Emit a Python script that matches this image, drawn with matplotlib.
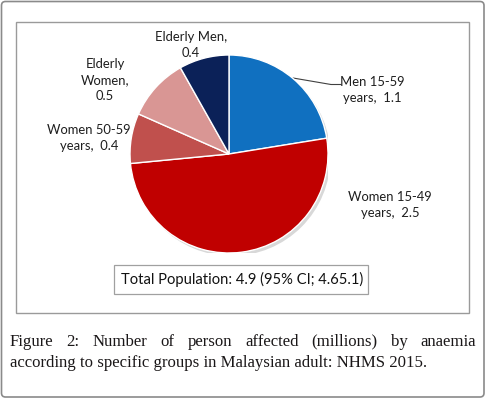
import matplotlib.pyplot as plt
from matplotlib.patches import FancyBboxPatch, Rectangle, Circle

# anaemia cases (millions) by group, NHMS 2015
groups = ["Men 15-59\nyears,", "Women 15-49\nyears,", "Women 50-59\nyears,",
          "Elderly\nWomen,\n", "Elderly Men,\n"]
cases = [1.1, 2.5, 0.4, 0.5, 0.4]
colors = ["#1070C0", "#C00000", "#C0504D", "#D99694", "#0B2158"]
total_text = "Total Population: 4.9 (95% CI; 4.65.1)"
caption_1 = "Figure 2: Number of person affected (millions) by anaemia"
caption_2 = "according to specific groups in Malaysian adult: NHMS 2015."

W, H = 486, 398
fig = plt.figure(figsize=(W / 100, H / 100), dpi=100)

# overlay axes in pixel coords (y down)
bg = fig.add_axes([0, 0, 1, 1])
bg.set_xlim(0, W)
bg.set_ylim(H, 0)
bg.axis("off")

bg.add_patch(FancyBboxPatch((1.5, 1.5), W - 3.5, H - 2.5,
                            boxstyle="round,pad=0,rounding_size=4",
                            fc="none", ec="#8a8a8a", lw=1.2))
bg.add_patch(Rectangle((16, 22), 453, 291, fc="none", ec="#9a9a9a", lw=1.0))

# pie
cx, cy, r = 229, 154, 99
pax = fig.add_axes([(cx - r) / W, (H - cy - r) / H, 2 * r / W, 2 * r / H])
pax.add_patch(Circle((0.025, -0.03), 1.0, fc="#d8d8d8", ec="none", zorder=0))
pax.pie(cases, colors=colors, startangle=90, counterclock=False,
        wedgeprops=dict(edgecolor="white", linewidth=1.0))
pax.set_xlim(-1, 1)
pax.set_ylim(-1, 1)

font = "Lato"
fs = 9.4
tc = "#1e1e1e"
label_pos = [(372, 90), (390, 205), (89, 138), (105, 80), (191, 45)]
for name, val, (x, y) in zip(groups, cases, label_pos):
    sep = "  " if name.endswith("years,") else ""
    if name.endswith("\n"):
        txt = f"{name}{val}"
    else:
        txt = f"{name}{sep}{val}"
    bg.text(x, y, txt, ha="center", va="center", fontsize=fs, family=font,
            color=tc, linespacing=1.45)

# leader line for Men 15-59
bg.plot([293, 331, 341], [78, 84.5, 84.5], color="#404040", lw=0.8)

bg.add_patch(Rectangle((114, 265), 254, 29, fc="white", ec="#a0a0a0", lw=0.9))
bg.text(242, 279.5, total_text, ha="center", va="center", fontsize=10.6,
        family=font, color="#111111")

# caption, first line justified across the width
cap_fs = 12.1
cap_font = "Liberation Serif"
cap_c = "#1a1718"
fig.canvas.draw()
rend = fig.canvas.get_renderer()
words = caption_1.split()
tmp = [bg.text(0, 0, w, fontsize=cap_fs, family=cap_font) for w in words]
inv = bg.transData.inverted()
widths = []
for t in tmp:
    bb = t.get_window_extent(rend)
    x0 = inv.transform((bb.x0, bb.y0))[0]
    x1 = inv.transform((bb.x1, bb.y0))[0]
    widths.append(x1 - x0)
    t.remove()
left, right = 10, 476
gap = (right - left - sum(widths)) / (len(words) - 1)
x = left
for w, wd in zip(words, widths):
    bg.text(x, 345.5, w, ha="left", va="baseline", fontsize=cap_fs,
            family=cap_font, color=cap_c)
    x += wd + gap
bg.text(left, 367, caption_2, ha="left", va="baseline", fontsize=cap_fs,
        family=cap_font, color=cap_c)

fig.savefig("out.png", dpi=100)
